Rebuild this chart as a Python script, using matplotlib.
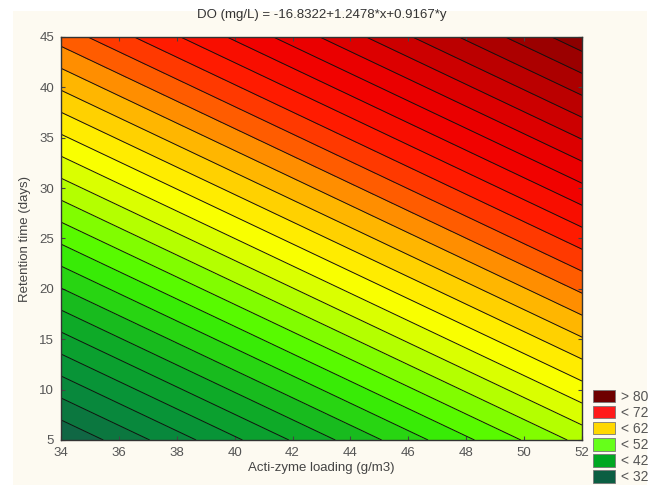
import numpy as np
import matplotlib.pyplot as plt
from matplotlib.colors import LinearSegmentedColormap, Normalize
from matplotlib.patches import Patch, Rectangle

plt.rcParams['font.family'] = ['Liberation Sans', 'DejaVu Sans']

# fitted surface: DO = b0 + b1*x + b2*y
b0 = -16.8322
b1 = 1.2478
b2 = 0.9167

x_range = [34, 52]
y_range = [5, 45]
levels = np.arange(30, 92, 2)

x_ticks = [34, 36, 38, 40, 42, 44, 46, 48, 50, 52]
y_ticks = [5, 10, 15, 20, 25, 30, 35, 40, 45]

legend_labels = ['> 80', '< 72', '< 62', '< 52', '< 42', '< 32']
legend_colors = ['#6e0000', '#ff1a1a', '#ffd800', '#66ff1a', '#00a822', '#0b5e42']

# colour ramp over DO value
lo, hi = 30, 90
stops = [(30, '#135f48'), (32, '#0c7040'), (36, '#07903a'), (42, '#10b024'),
         (48, '#40f800'), (52, '#99ff00'), (54, '#ccff00'), (57.5, '#ffff00'),
         (62.4, '#ffc000'), (65, '#ff9000'), (67, '#ff5a00'), (71, '#ff1a00'),
         (75.5, '#f00000'), (78, '#e60000'), (80.6, '#d00000'), (90, '#840000')]
cmap = LinearSegmentedColormap.from_list(
    'do', [((v - lo) / (hi - lo), c) for v, c in stops])

gx = np.linspace(x_range[0], x_range[1], 200)
gy = np.linspace(y_range[0], y_range[1], 200)
X, Y = np.meshgrid(gx, gy)
Z = b0 + b1 * X + b2 * Y

fig = plt.figure(figsize=(6.55, 4.88), dpi=100, facecolor='white')
fig.patches.append(Rectangle((13 / 655, 3 / 488), 634 / 655, 474 / 488,
                             transform=fig.transFigure, facecolor='#fdfaf1',
                             edgecolor='none', zorder=-1))
ax = fig.add_axes([61 / 655, 48 / 488, 521 / 655, 403 / 488])

# fill each band with the colour of its midpoint
mids = (levels[:-1] + levels[1:]) / 2
norm = Normalize(lo, hi)
band_colors = [cmap(norm(m)) for m in mids]
ax.contourf(X, Y, Z, levels=levels, colors=band_colors)
ax.contour(X, Y, Z, levels=levels, colors='#111111', linewidths=0.7)

ax.set_xlim(x_range)
ax.set_ylim(y_range)
ax.set_xticks(x_ticks)
ax.set_yticks(y_ticks)
ax.tick_params(direction='in', length=3, labelsize=9.5, colors='#444444',
               labelcolor='#555555', top=True, right=True, pad=5)
for s in ax.spines.values():
    s.set_color('#333333')
    s.set_linewidth(1.0)

ax.set_xlabel('Acti-zyme loading (g/m3)', fontsize=9.5, color='#444444', labelpad=2)
ax.set_ylabel('Retention time (days)', fontsize=9.5, color='#444444', labelpad=6)
ax.set_title('DO (mg/L) = -16.8322+1.2478*x+0.9167*y', fontsize=9.5,
             color='#333333', pad=14)

handles = [Patch(facecolor=c, edgecolor='#777777', linewidth=0.6)
           for c in legend_colors]
fig.legend(handles, legend_labels, loc='lower left',
           bbox_to_anchor=(583 / 655, -6 / 488), frameon=False, fontsize=10,
           labelcolor='#555555', handlelength=1.6, handleheight=1.0,
           handletextpad=0.4, labelspacing=0.15, borderpad=0.2)

fig.savefig('out.png', dpi=100, facecolor=fig.get_facecolor())
